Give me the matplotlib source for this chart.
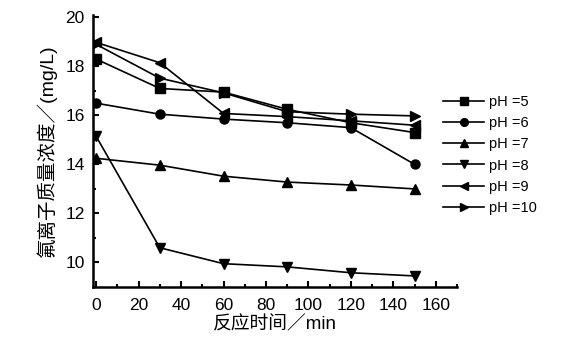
import matplotlib
matplotlib.use("Agg")
import matplotlib.pyplot as plt
from matplotlib.ticker import MultipleLocator

plt.rcParams['font.family'] = ['Liberation Sans', 'Noto Sans CJK SC']

time = [0, 30, 60, 90, 120, 150]
ph5 = [18.3, 17.1, 16.95, 16.25, 15.7, 15.3]
ph6 = [16.5, 16.05, 15.85, 15.7, 15.5, 14.0]
ph7 = [14.25, 13.97, 13.52, 13.28, 13.16, 13.0]
ph8 = [15.15, 10.6, 9.95, 9.82, 9.58, 9.45]
ph9 = [18.98, 18.15, 16.08, 15.95, 15.78, 15.6]
ph10 = [18.9, 17.52, 16.92, 16.15, 16.05, 15.98]

series = [ph5, ph6, ph7, ph8, ph9, ph10]
labels = ['pH =5', 'pH =6', 'pH =7', 'pH =8', 'pH =9', 'pH =10']
markers = ['s', 'o', '^', 'v', '<', '>']

fig = plt.figure(figsize=(5.63, 3.47), dpi=100)
ax = fig.add_axes([0.165, 0.173, 0.647, 0.784])

for vals, lab, mk in zip(series, labels, markers):
    ax.plot(time, vals, color='black', marker=mk, markersize=6.5, linewidth=1.2, label=lab)

ax.set_xlim(-1.5, 170)
ax.set_ylim(9.0, 20.1)
ax.xaxis.set_major_locator(MultipleLocator(20))
ax.xaxis.set_minor_locator(MultipleLocator(10))
ax.yaxis.set_major_locator(MultipleLocator(2))
ax.yaxis.set_minor_locator(MultipleLocator(1))
ax.tick_params(which='both', direction='in', width=1.5, labelsize=12.5)
ax.tick_params(which='major', length=4)
ax.tick_params(which='minor', length=2.5)
ax.tick_params(axis='x', pad=8)
ax.tick_params(axis='y', pad=6)
for s in ['top', 'right']:
    ax.spines[s].set_visible(False)
for s in ['left', 'bottom']:
    ax.spines[s].set_linewidth(1.8)

ax.set_xlabel('反应时间／min', fontsize=13.5, labelpad=2)
ax.set_ylabel('氟离子质量浓度／(mg/L)', fontsize=14, labelpad=6)

fig.legend(loc='upper left', bbox_to_anchor=(0.764, 0.765), frameon=False,
           fontsize=10.5, handlelength=2.8, markerscale=0.85,
           labelspacing=0.5, handletextpad=0.35)

fig.savefig('out.png', dpi=100)
